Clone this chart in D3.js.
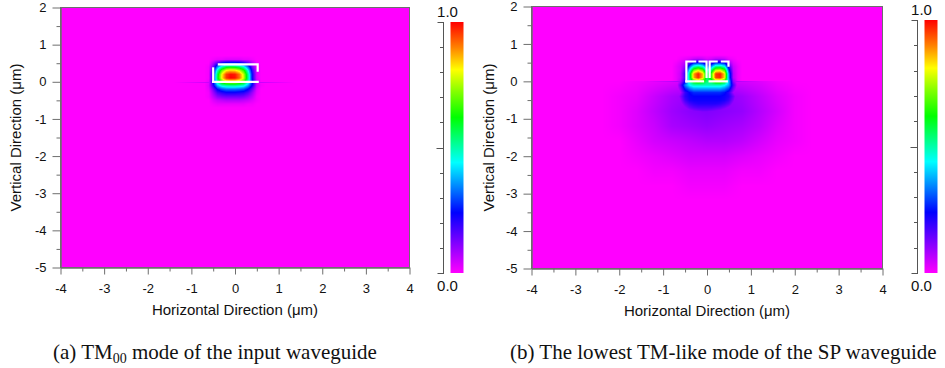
<!DOCTYPE html>
<html><head><meta charset="utf-8">
<script src="https://cdn.jsdelivr.net/npm/d3@7"></script>
<style>body{margin:0;background:#fff} svg{display:block}</style>
</head><body>
<svg id="chart" width="945" height="368"></svg>
<script>
// ---------------- data ----------------
const xTicks = [-4,-3,-2,-1,0,1,2,3,4];
const xTickLabels = ["-4","-3","-2","-1","0","1","2","3","4"];
const xMinor = [-3.5,-2.5,-1.5,-0.5,0.5,1.5,2.5,3.5];
const yTicks = [2,1,0,-1,-2,-3,-4,-5];
const yTickLabels = ["2","1","0","-1","-2","-3","-4","-5"];
const yMinor = [1.5,0.5,-0.5,-1.5,-2.5,-3.5,-4.5];
const cbTicks = [0,0.1,0.2,0.3,0.4,0.5,0.6,0.7,0.8,0.9,1.0];
const cbLabels = ["0.0","1.0"];
const xTitle = "Horizontal Direction (\u03bcm)";
const yTitle = "Vertical Direction (\u03bcm)";

// colour map (value -> colour)
const cmapStops  = [0, 0.12, 0.24, 0.34, 0.44, 0.53, 0.62, 0.72, 0.81, 0.90, 1.0];
const cmapColors = ["#ff00ff","#8000ff","#0000ff","#0080ff","#00ffff","#00ff80","#00ff00","#80ff00","#ffff00","#ff8000","#ff0000"];

// (a) TM00 field, |E| x100, sampled on a 0.1 um grid
const fieldAX = [-0.7,-0.6,-0.5,-0.4,-0.3,-0.2,-0.1,0,0.1,0.2,0.3,0.4,0.5,0.6,0.7];
const fieldAY = [0.7,0.6,0.5,0.4,0.3,0.2,0.1,0,-0.1,-0.2,-0.3,-0.4,-0.5,-0.6,-0.7];
const fieldA = [
  [0,0,0,0,0,0,0,0,0,0,0,0,0,0,0],
  [0,0,1,2,2,3,3,3,3,2,2,1,0,0,0],
  [0,0,7,17,25,29,30,30,28,23,16,7,1,0,0],
  [0,1,13,35,49,58,60,59,55,47,32,13,2,0,0],
  [0,1,19,49,70,82,85,84,78,66,45,19,3,0,0],
  [0,1,22,57,81,95,99,98,91,77,52,22,3,0,0],
  [0,1,22,58,82,96,100,99,92,78,53,22,3,0,0],
  [0,2,24,52,68,76,78,78,74,66,49,25,5,0,0],
  [0,3,21,39,48,51,52,52,50,47,37,22,5,1,0],
  [0,2,13,25,30,33,33,33,32,30,24,14,3,0,0],
  [0,1,9,17,20,22,22,22,21,20,16,9,2,0,0],
  [0,1,6,11,13,14,14,14,14,13,10,6,1,0,0],
  [0,0,3,5,6,7,7,7,7,6,5,3,1,0,0],
  [0,0,1,2,2,2,2,2,2,2,1,1,0,0,0],
  [0,0,0,0,0,0,0,0,0,0,0,0,0,0,0]
];
const interfaceAX = [-1.4,-0.6,0.6,1.4];
const interfaceAV = [0,5,5,0];
const outlineA = [
  [[-0.5,0],[-0.5,0.36]],
  [[-0.37,0.47],[0.52,0.47],[0.52,0.3]],
  [[-0.5,0],[0.52,0]]
];

// (b) SP waveguide TM-like mode: core field on 0.1 um grid
const fieldBX = [-0.8,-0.7,-0.6,-0.5,-0.4,-0.3,-0.2,-0.1,0,0.1,0.2,0.3,0.4,0.5,0.6,0.7,0.8];
const fieldBY = [0.7,0.6,0.5,0.4,0.3,0.2,0.1,0,-0.1,-0.2,-0.3,-0.4,-0.5,-0.6,-0.7,-0.8,-0.9];
const fieldB = [
  [0,0,0,0,0,0,0,0,0,0,0,0,0,0,0,0,0],
  [0,0,1,2,3,5,6,5,3,4,6,6,5,2,1,0,0],
  [0,1,3,6,14,23,25,22,14,17,25,25,22,9,3,1,0],
  [0,2,4,10,29,47,52,46,29,35,51,52,45,18,5,2,0],
  [0,2,4,14,43,70,78,69,43,53,76,78,67,27,6,2,0],
  [0,2,5,18,54,88,98,86,54,67,96,98,84,34,7,2,0],
  [0,2,5,17,53,87,97,85,53,66,95,97,83,34,7,2,0],
  [0,2,7,21,49,64,70,64,53,57,69,70,63,39,11,2,0],
  [0,2,15,34,44,49,49,49,49,49,49,49,45,37,17,4,0],
  [0,2,11,26,33,37,37,37,37,37,37,37,34,28,13,3,0],
  [0,1,8,19,24,27,27,27,27,27,27,27,25,20,9,2,0],
  [0,4,12,20,23,24,24,24,24,24,24,24,23,21,14,5,0],
  [0,3,10,18,22,23,23,23,23,23,23,23,22,19,12,4,0],
  [0,2,8,14,18,20,21,21,21,21,21,20,18,15,9,3,0],
  [0,1,5,10,14,16,17,17,17,17,16,15,13,10,6,2,0],
  [0,0,3,6,9,11,12,13,13,12,11,10,8,6,3,1,0],
  [0,0,0,0,0,0,0,0,0,0,0,0,0,0,0,0,0]
];
// (b) weak substrate halo on a 0.4 um grid
const haloBX = [-2.8,-2.4,-2.0,-1.6,-1.2,-0.8,-0.4,0,0.4,0.8,1.2,1.6,2.0,2.4,2.8];
const haloBY = [0,-0.4,-0.8,-1.2,-1.6,-2.0,-2.4,-2.8,-3.2];
const haloB = [
  [0,0,0,1,2,3,5,6,5,4,3,1,0,0,0],
  [0,0,1,2,5,8,10,11,11,9,6,3,1,0,0],
  [0,0,1,3,6,9,11,12,11,10,7,4,1,0,0],
  [0,0,1,3,5,8,9,10,9,8,6,3,1,0,0],
  [0,0,0,2,4,5,6,7,7,6,4,2,1,0,0],
  [0,0,0,1,2,3,4,4,4,3,2,1,0,0,0],
  [0,0,0,0,1,1,2,2,2,1,1,0,0,0,0],
  [0,0,0,0,0,0,1,1,1,0,0,0,0,0,0],
  [0,0,0,0,0,0,0,0,0,0,0,0,0,0,0]
];
const interfaceBX = [-1.6,-0.6,0.6,1.6];
const interfaceBV = [0,8,8,0];
const outlineB = [
  [[-0.47,0],[-0.47,0.53],[-0.27,0.53]],
  [[-0.17,0.53],[-0.01,0.53],[-0.01,0.12]],
  [[-0.47,0],[-0.09,0]],
  [[0.06,0.12],[0.06,0.53],[0.22,0.53]],
  [[0.34,0.53],[0.49,0.53],[0.49,0.42]],
  [[0.06,0],[0.45,0]]
];

const captionA = ["(a) TM", "00", " mode of the input waveguide"];
const captionB = ["(b) The lowest TM-like mode of the SP waveguide"];

// ---------------- drawing ----------------
const svg = d3.select("#chart");
const color = d3.scaleLinear().domain(cmapStops).range(cmapColors).interpolate(d3.interpolateRgb).clamp(true);

function sampler(xs, ys, grid) {
  return function(x, y) {
    const n = xs.length, m = ys.length;
    if (x < xs[0] || x > xs[n-1] || y > ys[0] || y < ys[m-1]) return 0;
    let i = Math.min(n-2, Math.max(0, d3.bisectRight(xs, x) - 1));
    let j = 0; while (j < m-2 && ys[j+1] >= y) j++;
    const tx = (x - xs[i]) / (xs[i+1] - xs[i]);
    const ty = (ys[j] - y) / (ys[j] - ys[j+1]);
    const a = grid[j][i], b = grid[j][i+1], c = grid[j+1][i], d = grid[j+1][i+1];
    return ((a*(1-tx) + b*tx)*(1-ty) + (c*(1-tx) + d*tx)*ty) / 100;
  };
}
function lineSampler(xs, vs) {
  const s = d3.scaleLinear().domain(xs).range(vs).clamp(true);
  return x => s(x) / 100;
}

const defs = svg.append("defs");
const grad = defs.append("linearGradient").attr("id","cmap").attr("x1",0).attr("y1",1).attr("x2",0).attr("y2",0);
cmapStops.forEach((s,k)=>grad.append("stop").attr("offset", s).attr("stop-color", cmapColors[k]));

const FONT = "Arial, 'Liberation Sans', sans-serif";
const AXC = "#6e6e6e";

function panel(cfg) {
  const x = d3.scaleLinear().domain([-4,4]).range(cfg.xr);
  const y = d3.scaleLinear().domain([-5,2]).range(cfg.yr);
  const g = svg.append("g");

  // field image
  const x0 = Math.round(cfg.xr[0]), x1 = Math.round(cfg.xr[1]);
  const y0 = Math.round(cfg.yr[1]), y1 = Math.round(cfg.yr[0]);
  const W = x1 - x0, H = y1 - y0;
  const cv = document.createElement("canvas"); cv.width = W; cv.height = H;
  const ctx = cv.getContext("2d");
  const img = ctx.createImageData(W, H);
  const yIf = Math.round(y(0)) - y0;
  for (let j = 0; j < H; j++) {
    const yy = y.invert(y0 + j + 0.5);
    for (let i = 0; i < W; i++) {
      const xx = x.invert(x0 + i + 0.5);
      let v = 0;
      cfg.fields.forEach(f => { v = Math.max(v, f(xx, yy)); });
      if (j === yIf) v = Math.max(v, cfg.iface(xx));
      const c = d3.rgb(color(v));
      const k = (j*W + i)*4;
      img.data[k] = c.r; img.data[k+1] = c.g; img.data[k+2] = c.b; img.data[k+3] = 255;
    }
  }
  ctx.putImageData(img, 0, 0);
  g.append("image").attr("x", x0).attr("y", y0).attr("width", W).attr("height", H)
    .attr("preserveAspectRatio","none").attr("href", cv.toDataURL());

  // waveguide outline
  const line = d3.line().x(d=>x(d[0])).y(d=>y(d[1]));
  g.selectAll("path.wg").data(cfg.outline).enter().append("path").attr("class","wg")
    .attr("d", line).attr("fill","none").attr("stroke","#fff").attr("stroke-width",2.2).attr("stroke-linecap","square");

  // frame
  g.append("rect").attr("x", cfg.xr[0]).attr("y", cfg.yr[1]).attr("width", cfg.xr[1]-cfg.xr[0]).attr("height", cfg.yr[0]-cfg.yr[1])
    .attr("fill","none").attr("stroke",AXC).attr("stroke-width",1);

  // axes
  const ax = g.append("g").attr("transform",`translate(0,${cfg.yr[0]})`)
    .call(d3.axisBottom(x).tickValues(xTicks).tickSize(7).tickSizeOuter(0).tickPadding(9)
      .tickFormat((d,k)=>xTickLabels[k]));
  const axm = g.append("g").attr("transform",`translate(0,${cfg.yr[0]})`)
    .call(d3.axisBottom(x).tickValues(xMinor).tickSize(4).tickSizeOuter(0).tickFormat(""));
  const ay = g.append("g").attr("transform",`translate(${cfg.xr[0]},0)`)
    .call(d3.axisLeft(y).tickValues(yTicks).tickSize(8).tickSizeOuter(0).tickPadding(6)
      .tickFormat((d,k)=>yTickLabels[k]));
  const aym = g.append("g").attr("transform",`translate(${cfg.xr[0]},0)`)
    .call(d3.axisLeft(y).tickValues(yMinor).tickSize(4).tickSizeOuter(0).tickFormat(""));
  [ax,axm,ay,aym].forEach(a=>{
    a.selectAll("path.domain").attr("stroke",AXC);
    a.selectAll("line").attr("stroke",AXC);
    a.selectAll("text").attr("font-family",FONT).attr("font-size",13).attr("fill","#111");
  });

  // titles
  g.append("text").attr("x",(cfg.xr[0]+cfg.xr[1])/2).attr("y",cfg.yr[0]+47.5)
    .attr("text-anchor","middle").attr("font-family",FONT).attr("font-size",15).attr("fill","#111").text(xTitle);
  g.append("text").attr("transform",`translate(${cfg.yTitleX},${(cfg.yr[0]+cfg.yr[1])/2}) rotate(-90)`)
    .attr("text-anchor","middle").attr("font-family",FONT).attr("font-size",15).attr("fill","#111").text(yTitle);

  // colour bar
  const cb = d3.scaleLinear().domain([0,1]).rangeRound(cfg.cbY);
  g.append("rect").attr("x",cfg.cbX+7).attr("y",cb(1)).attr("width",13).attr("height",cb(0)-cb(1))
    .attr("fill","url(#cmap)");
  g.append("line").attr("x1",cfg.cbX).attr("x2",cfg.cbX).attr("y1",cb(1)).attr("y2",cb(0)+1)
    .attr("stroke","#555").attr("stroke-width",1);
  g.selectAll("line.cbtick").data(cbTicks).enter().append("line").attr("class","cbtick")
    .attr("x1", d => cfg.cbX - ((d===0||d===1) ? 6 : (Math.abs(d-0.5)<1e-9 ? 7 : 3.5)))
    .attr("x2", cfg.cbX)
    .attr("y1", d => cb(d)+0.5).attr("y2", d => cb(d)+0.5)
    .attr("stroke","#555").attr("stroke-width",1);
  g.append("text").attr("x",cfg.cbX+4).attr("y",cb(1)-5.5).attr("text-anchor","middle")
    .attr("font-family",FONT).attr("font-size",15).attr("fill","#111").text(cbLabels[1]);
  g.append("text").attr("x",cfg.cbX+4).attr("y",cb(0)+17.5).attr("text-anchor","middle")
    .attr("font-family",FONT).attr("font-size",15).attr("fill","#111").text(cbLabels[0]);

  // caption
  const t = g.append("text").attr("x",cfg.capX).attr("y",359).attr("font-family","'Times New Roman', 'Liberation Serif', serif")
    .attr("font-size",21).attr("fill","#111");
  t.append("tspan").text(cfg.caption[0]);
  if (cfg.caption.length > 1) {
    t.append("tspan").attr("font-size",14).attr("dy",4).text(cfg.caption[1]);
    t.append("tspan").attr("dy",-4).text(cfg.caption[2]);
  }
}

panel({
  xr:[60.5,409.5], yr:[267.5,7.5], yTitleX:21,
  fields:[sampler(fieldAX, fieldAY, fieldA)],
  iface: lineSampler(interfaceAX, interfaceAV),
  outline: outlineA,
  cbX:443.5, cbY:[273,22],
  capX:53, caption:captionA
});
panel({
  xr:[531.5,882.5], yr:[268.5,6.5], yTitleX:494,
  fields:[sampler(fieldBX, fieldBY, fieldB), sampler(haloBX, haloBY, haloB)],
  iface: lineSampler(interfaceBX, interfaceBV),
  outline: outlineB,
  cbX:917.5, cbY:[273,20],
  capX:510, caption:captionB
});
</script>
</body></html>
